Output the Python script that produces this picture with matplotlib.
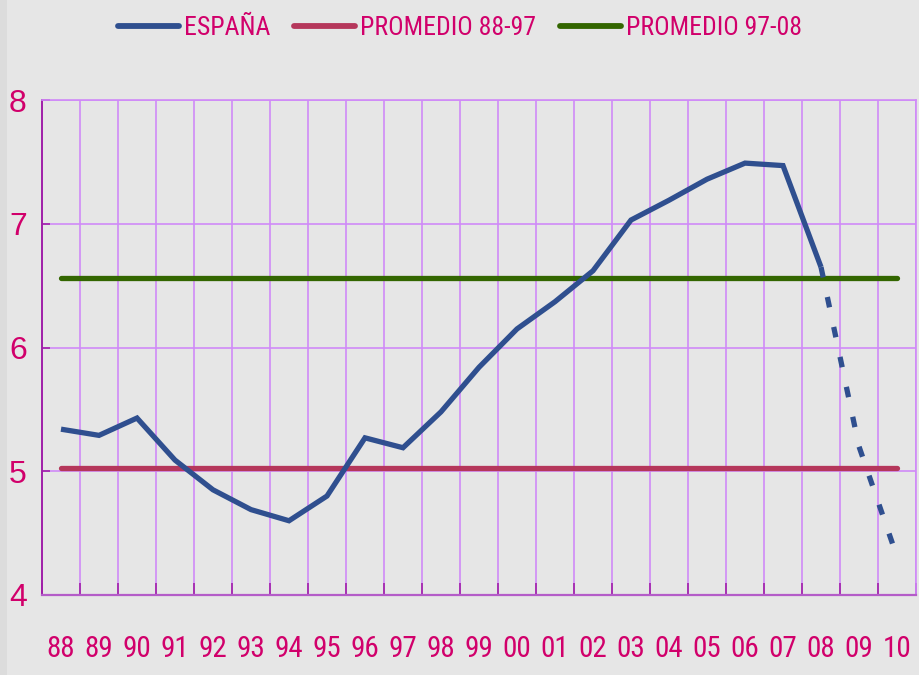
import matplotlib.pyplot as plt
import numpy as np
from matplotlib.patches import Rectangle
from matplotlib.ticker import MultipleLocator

# Data
years = ['88', '89', '90', '91', '92', '93', '94', '95', '96', '97', '98', '99',
         '00', '01', '02', '03', '04', '05', '06', '07', '08', '09', '10']
espana = [5.34, 5.29, 5.43, 5.09, 4.85, 4.69, 4.60, 4.80, 5.27, 5.19, 5.48, 5.84,
          6.15, 6.37, 6.62, 7.03, 7.19, 7.36, 7.49, 7.47, 6.65, 5.20, 4.31]
last_observed = '08'        # dashed line after this year (forecast)
promedio_88_97 = 5.03
promedio_97_08 = 6.56

BG = '#E6E6E6'
TEXT = '#D1006B'
BLUE = '#2F4F8F'
PINK = '#B5375B'
GREEN = '#336600'
GRID = '#D08AF8'
AXIS = '#A020A8'

NARROW = ['Roboto Condensed', 'Archivo Narrow', 'Liberation Sans', 'DejaVu Sans']
REGULAR = ['Liberation Sans', 'DejaVu Sans']

fig = plt.figure(figsize=(9.2, 6.75), dpi=100, facecolor=BG)
fig.patches.append(Rectangle((0, 0), 7 / 920, 1, transform=fig.transFigure,
                             facecolor='#DCDCDC', edgecolor='none', zorder=0))
ax = fig.add_axes([42 / 920, 1 - 595 / 675, 874 / 920, 495 / 675])
ax.set_facecolor(BG)

x = np.arange(len(years))
cut = years.index(last_observed)

ax.plot(x[:cut + 1], espana[:cut + 1], color=BLUE, lw=3.8,
        solid_capstyle='butt', solid_joinstyle='miter', label='ESPAÑA', zorder=4)
ax.plot(x[cut:], espana[cut:], color=BLUE, lw=3.8, dashes=(2, 3.8),
        dash_capstyle='butt', zorder=4)
ax.plot([x[0], x[-1]], [promedio_88_97] * 2, color=PINK, lw=3.8,
        solid_capstyle='round', label='PROMEDIO 88-97', zorder=3)
ax.plot([x[0], x[-1]], [promedio_97_08] * 2, color=GREEN, lw=3.8,
        solid_capstyle='round', label='PROMEDIO 97-08', zorder=3)

ax.set_xlim(-0.5, len(years) - 0.5)
ax.set_ylim(4, 8)

# grid: vertical lines between categories, horizontal at each unit
ax.set_xticks(x)
ax.set_xticklabels(years)
ax.xaxis.set_minor_locator(MultipleLocator(1, offset=0.5))
ax.yaxis.set_major_locator(MultipleLocator(1))
ax.grid(True, which='minor', axis='x', color=GRID, lw=1.2, zorder=1)
ax.grid(True, which='major', axis='y', color=GRID, lw=1.2, zorder=1)
ax.set_axisbelow(True)

ax.tick_params(axis='x', which='major', length=0, pad=29, labelsize=21,
               labelcolor=TEXT)
ax.tick_params(axis='x', which='minor', direction='in', length=9, width=1.2,
               color=AXIS)
ax.tick_params(axis='y', direction='in', length=6, width=1.2, color=AXIS,
               pad=11, labelsize=23, labelcolor=TEXT)
for lbl in ax.get_xticklabels():
    lbl.set_family(NARROW)
for lbl in ax.get_yticklabels():
    lbl.set_family(REGULAR)

for side in ['top', 'right']:
    ax.spines[side].set_color(GRID)
    ax.spines[side].set_linewidth(1.2)
ax.spines['left'].set_color(AXIS)
ax.spines['bottom'].set_color('#B45CC8')
ax.spines['left'].set_linewidth(1.4)
ax.spines['bottom'].set_linewidth(1.6)

leg = fig.legend(loc='center', bbox_to_anchor=(0.5, 1 - 28 / 675), ncol=3,
                 frameon=False, handlelength=2.35, handletextpad=0.2,
                 columnspacing=0.95,
                 prop={'family': NARROW, 'size': 18.5})
for t in leg.get_texts():
    t.set_color(TEXT)
for h in leg.legend_handles:
    h.set_linewidth(4.2)
    h.set_solid_capstyle('round')

fig.savefig('out.png', dpi=100, facecolor=BG)
